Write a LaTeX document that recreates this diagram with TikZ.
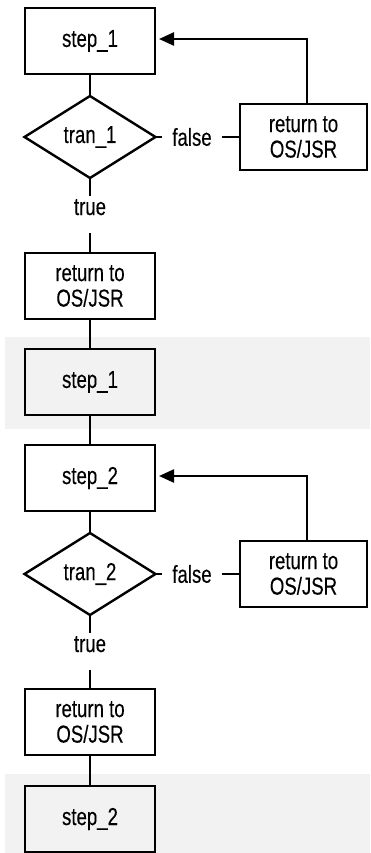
\documentclass[tikz,border=0pt]{standalone}
\usepackage{fontspec}
\setmainfont[FakeStretch=0.76,FakeBold=0.2]{Liberation Sans}
\usetikzlibrary{shapes.geometric,arrows.meta}
\definecolor{band}{HTML}{F2F2F2}
\begin{document}
\begin{tikzpicture}[x=1pt,y=-1pt,line width=2.4pt,
  txt/.style={font=\fontsize{24.5}{25.5}\selectfont},
  box/.style={txt,draw,minimum width=130pt,minimum height=66pt,inner sep=0pt,outer sep=0pt,align=center},
  rbox/.style={box,minimum width=127pt},
  dia/.style={txt,draw,diamond,minimum width=131pt,minimum height=82pt,inner sep=0pt,outer sep=0pt},
  lbl/.style={txt,inner xsep=9pt,inner ysep=0pt},
  tru/.style={txt,inner sep=0pt,anchor=base,text height=18pt,text depth=17pt},
  back/.style={-{Triangle[length=15pt 0 0,width=13pt 0 0]},shorten >=4pt}]
\useasboundingbox (0,0) rectangle (370,853);
% background bands
\fill[band] (5,337) rectangle (370,429);
\fill[band] (5,774) rectangle (370,853);
% section 1
\node[box] (s1) at (90,41) {step\_1};
\node[dia] (d1) at (90,137) {tran\_1};
\node[lbl] (f1) at (192,137) {false};
\node[rbox] (r1) at (303.5,137) {return to\\OS/JSR};
\node[tru] (t1) at (90,215) {true};
\node[box] (q1) at (90,286) {return to\\OS/JSR};
\node[box,fill=band] (b1) at (90,382) {step\_1};
\coordinate (c1) at (307,39);
% section 2
\node[box] (s2) at (90,478) {step\_2};
\node[dia] (d2) at (90,574) {tran\_2};
\node[lbl] (f2) at (192,574) {false};
\node[rbox] (r2) at (303.5,574) {return to\\OS/JSR};
\node[tru] (t2) at (90,652) {true};
\node[box] (q2) at (90,722) {return to\\OS/JSR};
\node[box,fill=band] (b2) at (90,819) {step\_2};
\coordinate (c2) at (307,476);
% connectors
\draw (s1) -- (d1);
\draw (d1.east) -- (f1.west);
\draw (f1.east) -- (r1.west);
\draw[back] (r1.north -| c1) -- (c1) -- (s1.east |- c1);
\draw (d1.south) -- (t1.north);
\draw (t1.south) -- (q1.north);
\draw (q1) -- (b1);
\draw (b1) -- (s2);
\draw (s2) -- (d2);
\draw (d2.east) -- (f2.west);
\draw (f2.east) -- (r2.west);
\draw[back] (r2.north -| c2) -- (c2) -- (s2.east |- c2);
\draw (d2.south) -- (t2.north);
\draw (t2.south) -- (q2.north);
\draw (q2) -- (b2);
\end{tikzpicture}
\end{document}
